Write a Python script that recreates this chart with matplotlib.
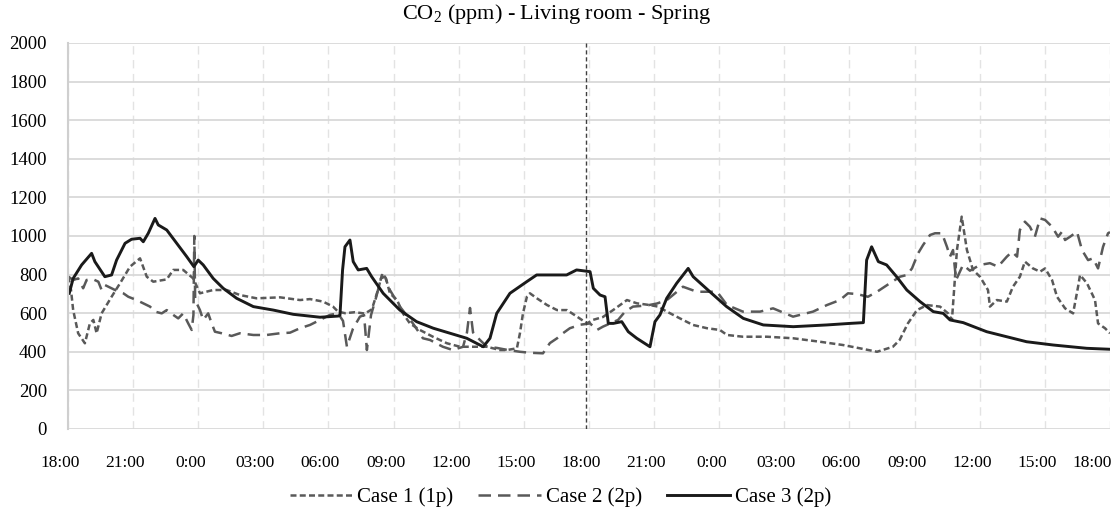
import matplotlib
matplotlib.use("Agg")
import matplotlib.pyplot as plt
import matplotlib.transforms as mtransforms

plt.rcParams['font.family'] = ['Liberation Serif', 'DejaVu Serif']
plt.rcParams['mathtext.fontset'] = 'custom'
plt.rcParams['mathtext.rm'] = 'Liberation Serif'

# hours since 18:00 of day 1, CO2 in ppm
case1_h = [0.02, 0.14, 0.24, 0.47, 0.78, 1.01, 1.17, 1.32, 1.55, 2.01, 2.40, 2.86, 3.32, 3.63, 3.93,
           4.55, 4.85, 5.31, 5.77, 6.08, 6.69, 7.31, 7.92, 8.69, 9.77, 10.69, 11.15, 11.75, 12.21,
           12.44, 12.76, 13.22, 13.68, 14.00, 14.28, 14.46, 14.65, 14.83, 15.16, 15.43, 15.75,
           16.21, 16.81, 17.46, 18.06, 18.84, 19.30, 19.90, 20.22, 20.68, 20.82, 20.96, 21.14,
           21.28, 21.60, 22.07, 22.53, 22.99, 23.45, 23.91, 24.18, 24.64, 25.11, 25.75, 26.21,
           26.81, 27.18, 27.59, 28.19, 28.79, 29.44, 30.03, 30.36, 31.09, 32.20, 33.40, 34.64,
           35.70, 36.48, 37.27, 38.00, 38.31, 38.69, 39.11, 39.57, 40.17, 40.54, 40.72, 40.95,
           41.17, 41.41, 41.69, 42.01, 42.38, 42.47, 42.79, 43.25, 43.53, 43.85, 44.08, 44.45,
           44.78, 45.01, 45.33, 45.56, 45.93, 46.30, 46.53, 46.62, 46.94, 47.31, 47.45, 47.77, 48.00]
case1_v = [790, 720, 616, 496, 444, 547, 565, 496, 599, 685, 755, 841, 884, 789, 763,
           775, 824, 824, 780, 703, 720, 720, 694, 677, 682, 668, 673, 660, 634,
           608, 600, 605, 598, 620, 720, 798, 780, 703, 668, 599, 547,
           513, 478, 444, 426, 426, 426, 409, 409, 418, 496, 599, 685,
           703, 677, 642, 616, 616, 582, 547, 565, 580, 616, 668, 651,
           642, 634, 608, 573, 539, 522, 513, 487, 478, 478, 470, 452,
           435, 418, 400, 426, 461, 547, 616, 642, 634, 599, 565, 927,
           1100, 927, 824, 789, 720, 634, 668, 660, 737, 789, 867, 832,
           815, 832, 772, 685, 625, 599, 737, 798, 755, 668, 547, 522, 496]

case2_h = [0.02, 0.24, 0.47, 0.70, 0.86, 1.17, 1.40, 1.55, 1.70, 2.17, 2.55, 2.78, 3.16, 3.47, 3.78,
           4.01, 4.32, 4.55, 4.85, 5.08, 5.31, 5.54, 5.70, 5.78, 5.82, 5.86, 6.08, 6.23, 6.46,
           6.62, 6.77, 7.08, 7.54, 7.92, 8.54, 9.15, 9.77, 10.23, 10.69, 11.15, 11.61, 12.07,
           12.44, 12.67, 12.85, 13.13, 13.45, 13.64, 13.77, 13.96, 14.19, 14.42, 14.60, 14.83,
           15.29, 15.89, 16.35, 16.68, 17.27, 17.73, 18.20, 18.38, 18.52, 18.66, 18.98, 19.30,
           19.76, 20.22, 20.82, 21.28, 21.88, 22.20, 22.53, 22.80, 23.12, 23.59, 24.05, 24.37,
           24.64, 25.34, 25.66, 26.03, 26.67, 27.13, 27.59, 28.33, 28.97, 29.90, 30.36, 31.09,
           31.88, 32.48, 33.40, 34.32, 34.96, 35.56, 35.93, 36.35, 36.85, 37.27, 37.86, 38.33,
           38.65, 38.88, 39.16, 39.39, 39.71, 39.94, 40.26, 40.49, 40.63, 40.77, 40.91, 41.23,
           41.55, 42.01, 42.47, 42.84, 43.25, 43.49, 43.72, 43.85, 44.08, 44.31, 44.54, 44.78,
           45.01, 45.33, 45.61, 45.79, 45.93, 46.16, 46.48, 46.71, 46.99, 47.22, 47.45, 47.68,
           47.91, 48.00]
case2_v = [789, 772, 780, 729, 772, 775, 763, 720, 746, 720, 703, 685, 668, 651, 634,
           608, 599, 616, 591, 573, 599, 547, 513, 590, 1000, 668, 616, 565, 599,
           547, 504, 496, 482, 496, 487, 487, 496, 499, 522, 539, 565, 591,
           599, 560, 426, 520, 582, 590, 409, 590, 680, 780, 790, 720,
           634, 547, 470, 461, 426, 409, 426, 500, 627, 500, 461, 426,
           420, 410, 400, 395, 392, 445, 470, 496, 522, 540, 547, 513,
           530, 565, 608, 634, 640, 650, 668, 737, 711, 711, 642, 608,
           608, 625, 582, 608, 642, 668, 703, 699, 685, 711, 755, 789,
           798, 832, 910, 953, 1005, 1014, 1014, 944, 893, 927, 772, 850,
           820, 850, 859, 841, 893, 918, 893, 1031, 1074, 1048, 996, 1091,
           1083, 1048, 996, 1022, 979, 996, 1022, 927, 875, 884, 832, 944,
           1014, 1020]

case3_h = [0.06, 0.24, 0.63, 1.09, 1.24, 1.70, 2.01, 2.24, 2.63, 2.93, 3.32, 3.47, 3.70, 4.01, 4.16,
           4.55, 5.01, 5.47, 5.80, 6.00, 6.23, 6.69, 7.15, 7.77, 8.54, 9.46, 10.38, 11.61, 12.45,
           12.53, 12.65, 12.76, 12.99, 13.14, 13.37, 13.76, 13.99, 14.52, 15.29, 16.06, 16.83,
           17.60, 18.37, 19.13, 19.44, 19.75, 20.36, 21.13, 21.59, 22.36, 22.97, 23.43, 24.05,
           24.20, 24.51, 24.74, 24.89, 25.12, 25.51, 25.81, 26.20, 26.81, 27.04, 27.27, 27.58,
           28.04, 28.57, 28.80, 29.57, 30.34, 31.11, 32.03, 33.41, 34.95, 36.02, 36.64, 36.79,
           37.02, 37.33, 37.71, 38.17, 38.64, 39.25, 39.86, 40.32, 40.63, 41.24, 42.32, 43.24,
           44.16, 45.39, 46.93, 48.00]
case3_v = [703, 780, 850, 910, 867, 789, 798, 875, 962, 983, 988, 970, 1014, 1091, 1057,
           1031, 962, 893, 841, 875, 850, 780, 729, 677, 634, 616, 594, 579, 585,
           590, 824, 944, 979, 867, 824, 832, 789, 703, 616, 556, 522,
           496, 470, 426, 470, 599, 703, 763, 798, 798, 798, 824, 815,
           729, 694, 685, 547, 547, 556, 504, 470, 426, 556, 591, 677,
           755, 832, 789, 711, 634, 573, 539, 530, 539, 547, 551, 875,
           944, 867, 850, 789, 720, 660, 608, 599, 565, 551, 504, 478,
           452, 435, 418, 413]

tick_hours = list(range(0, 49, 3))
tick_labels = ["18:00", "21:00", "0:00", "03:00", "06:00", "09:00", "12:00", "15:00",
               "18:00", "21:00", "0:00", "03:00", "06:00", "09:00", "12:00", "15:00", "18:00"]
split_hour = 23.86

fig = plt.figure(figsize=(11.14, 5.21), dpi=100)
ax = fig.add_axes([0.061, 0.1766, 0.9354, 0.741])

ax.plot(case1_h, case1_v, color="#595959", lw=1.8, dashes=(2.4, 1.3), label="Case 1 (1p)")
ax.plot(case2_h, case2_v, color="#595959", lw=1.8, dashes=(5.0, 2.8), label="Case 2 (2p)")
ax.plot(case3_h, case3_v, color="#1a1a1a", lw=2.1, label="Case 3 (2p)")
ax.axvline(split_hour, color="#404040", lw=1.0, dashes=(3, 2))

ax.set_xlim(0, 48)
ax.set_ylim(0, 2000)
ax.set_yticks(range(0, 2001, 200))
ax.set_xticks(tick_hours)
ax.set_xticklabels(tick_labels)
ax.tick_params(axis="both", length=0, colors="black")
ax.tick_params(axis="y", pad=15, labelsize=13.5)
ax.tick_params(axis="x", pad=19, labelsize=12.5)

# labels sit a little left of the grid lines, the last one kept inside the figure
shift = mtransforms.ScaledTranslation(-8 / 100, 0, fig.dpi_scale_trans)
xlabels = ax.get_xticklabels()
for lab in xlabels[:-1]:
    lab.set_transform(lab.get_transform() + shift)
xlabels[-1].set_horizontalalignment("right")
xlabels[-1].set_transform(xlabels[-1].get_transform()
                          + mtransforms.ScaledTranslation(2 / 100, 0, fig.dpi_scale_trans))

ax.grid(axis="y", color="#d9d9d9", lw=1.3)
ax.grid(axis="x", color="#e3e3e3", lw=1.0, dashes=(6, 4))
ax.set_axisbelow(True)
for s in ["top", "right", "bottom"]:
    ax.spines[s].set_visible(False)
ax.spines["left"].set_color("#cfcfcf")
ax.spines["left"].set_linewidth(1.5)

fig.text(0.5, 1 - 14 / 521, "CO$_2$ (ppm) - Living room - Spring", fontsize=16,
         ha="center", va="center")

leg = fig.legend(loc="center", bbox_to_anchor=(0.503, 0.046), ncol=3, frameon=False,
                 fontsize=15, handlelength=3.0, handletextpad=0.25, columnspacing=1.2)

fig.savefig("out.png", dpi=100)
